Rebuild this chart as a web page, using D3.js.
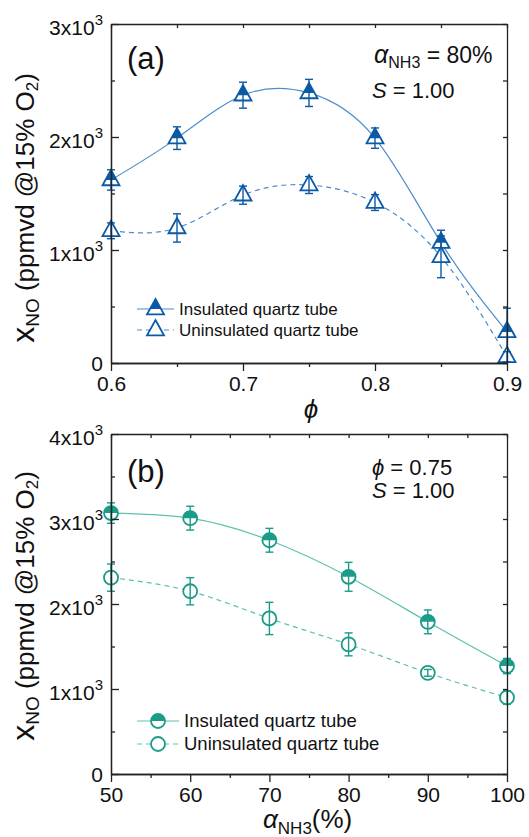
<!DOCTYPE html>
<html>
<head>
<meta charset="utf-8">
<script src="https://cdn.jsdelivr.net/npm/d3@7"></script>
<style>
  body { margin: 0; background: #fff; }
  text { font-family: "Liberation Sans", Arial, "DejaVu Sans", sans-serif; fill: #111; }
</style>
</head>
<body>
<div id="chart"></div>
<script>
// panel (a): NO vs equivalence ratio
var phiValues = [0.6, 0.65, 0.7, 0.75, 0.8, 0.85, 0.9];
var noInsulatedA = [1620, 1990, 2370, 2390, 1990, 1065, 275];
var errInsulatedA = [90, 100, 115, 120, 90, 110, 210];
var noUninsulatedA = [1170, 1195, 1485, 1575, 1420, 940, 55];
var errUninsulatedA = [70, 125, 80, 75, 70, 185, 45];
var phiTicks = [0.6, 0.7, 0.8, 0.9];
var phiMinorTicks = [0.65, 0.75, 0.85];
var yTicksA = [0, 1000, 2000, 3000];
var yMinorTicksA = [500, 1500, 2500];

// panel (b): NO vs NH3 fraction
var nh3Values = [50, 60, 70, 80, 90, 100];
var noInsulatedB = [3070, 3010, 2750, 2320, 1790, 1270];
var errInsulatedB = [120, 140, 140, 170, 140, 90];
var noUninsulatedB = [2310, 2150, 1830, 1525, 1190, 900];
var errUninsulatedB = [160, 160, 190, 135, 40, 80];
var nh3Ticks = [50, 60, 70, 80, 90, 100];
var nh3MinorTicks = [55, 65, 75, 85, 95];
var yTicksB = [0, 1000, 2000, 3000, 4000];
var yMinorTicksB = [500, 1500, 2500, 3500];

var legendNames = ['Insulated quartz tube', 'Uninsulated quartz tube'];

var W = 529, H = 837;
var svg = d3.select('#chart').append('svg')
  .attr('width', W).attr('height', H);

function triangle(g, half, color) {
  g.append('path')
    .attr('d', 'M0,-10 L8.5,5.3 L-8.5,5.3 Z')
    .attr('fill', '#fff').attr('stroke', color).attr('stroke-width', 1.8)
    .attr('stroke-linejoin', 'miter');
  if (half) {
    g.append('path').attr('d', 'M0,-10 L5.6,0 L-5.6,0 Z').attr('fill', color);
  }
}

function circle(g, half, color) {
  g.append('circle').attr('r', 7)
    .attr('fill', '#fff').attr('stroke', color).attr('stroke-width', 1.8);
  if (half) {
    g.append('path').attr('d', 'M-7,0 A7,7 0 0 1 7,0 Z').attr('fill', color);
  }
}

function drawPanel(p) {
  var x = d3.scaleLinear().domain(p.xDomain).range([p.x0, p.x1]);
  var y = d3.scaleLinear().domain(p.yDomain).range([p.y1, p.y0]);
  var g = svg.append('g');

  // curves
  p.series.forEach(function(s) {
    var line = d3.line()
      .x(function(d, i) { return x(p.xValues[i]); })
      .y(function(d) { return y(d); })
      .curve(d3.curveNatural);
    g.append('path')
      .attr('d', line(s.values))
      .attr('fill', 'none')
      .attr('stroke', p.lineColor)
      .attr('stroke-width', 1.2)
      .attr('stroke-dasharray', s.dashed ? '5,4' : null);
  });

  // markers + error bars
  p.series.forEach(function(s) {
    s.values.forEach(function(v, i) {
      var cx = x(p.xValues[i]), cy = y(v);
      var m = g.append('g').attr('transform', 'translate(' + cx + ',' + cy + ')');
      p.marker(m, s.half, p.color);
      var top = y(v + s.errors[i]) - cy, bot = y(v - s.errors[i]) - cy;
      var eb = m.append('g').attr('stroke', p.color).attr('stroke-width', 1.4);
      eb.append('line').attr('x1', 0).attr('x2', 0).attr('y1', top).attr('y2', bot);
      eb.append('line').attr('x1', -4).attr('x2', 4).attr('y1', top).attr('y2', top);
      eb.append('line').attr('x1', -4).attr('x2', 4).attr('y1', bot).attr('y2', bot);
    });
  });

  // axes
  function styleAxis(a) {
    a.selectAll('.domain').attr('stroke', '#222').attr('stroke-width', 1.3);
    a.selectAll('.tick line').attr('stroke', '#222').attr('stroke-width', 1.3);
    a.selectAll('.tick text').attr('font-size', 21).attr('fill', '#111')
      .attr('font-family', '"Liberation Sans", Arial, sans-serif');
  }
  styleAxis(g.append('g').attr('transform', 'translate(0,' + p.y1 + ')')
    .call(d3.axisBottom(x).tickValues(p.xTicks).tickSize(8).tickSizeOuter(0)
      .tickPadding(5).tickFormat(p.xFormat)));
  styleAxis(g.append('g').attr('transform', 'translate(0,' + p.y1 + ')')
    .call(d3.axisBottom(x).tickValues(p.xMinor).tickSize(4).tickSizeOuter(0).tickFormat('')));
  styleAxis(g.append('g').attr('transform', 'translate(0,' + p.y0 + ')')
    .call(d3.axisTop(x).tickValues(p.xTicks.concat(p.xMinor)).tickSize(-4).tickSizeOuter(0).tickFormat('')));
  styleAxis(g.append('g').attr('transform', 'translate(' + p.x0 + ',0)')
    .call(d3.axisLeft(y).tickValues(p.yTicks).tickSize(-8).tickSizeOuter(0).tickFormat('')));
  styleAxis(g.append('g').attr('transform', 'translate(' + p.x0 + ',0)')
    .call(d3.axisLeft(y).tickValues(p.yMinor).tickSize(-4).tickSizeOuter(0).tickFormat('')));
  styleAxis(g.append('g').attr('transform', 'translate(' + p.x1 + ',0)')
    .call(d3.axisRight(y).tickValues(p.yTicks.concat(p.yMinor)).tickSize(-4).tickSizeOuter(0).tickFormat('')));

  // y tick labels like 2x10^3
  p.yTicks.forEach(function(v) {
    var t = g.append('text')
      .attr('x', p.x0 - 8)
      .attr('y', y(v) + (v === 0 ? 8 : 11))
      .attr('text-anchor', 'end')
      .attr('font-size', 21);
    if (v === 0) {
      t.text('0');
    } else {
      t.append('tspan').text((v / 1000) + 'x10');
      t.append('tspan').attr('dy', -10).attr('font-size', 15).text('3');
    }
  });

  // y axis title
  var yt = g.append('text')
    .attr('transform', 'translate(34,' + p.yTitleY + ') rotate(-90)')
    .attr('text-anchor', 'middle')
    .attr('font-size', 26);
  yt.append('tspan').attr('font-size', 32).text('x');
  yt.append('tspan').attr('font-size', 19).attr('dy', 5).text('NO');
  yt.append('tspan').attr('dy', -5).text(' (ppmvd @15% O');
  yt.append('tspan').attr('font-size', 17).attr('dy', 4).text('2');
  yt.append('tspan').attr('dy', -4).text(')');

  // panel label
  g.append('text').attr('x', p.x0 + 16).attr('y', p.labelY)
    .attr('font-size', 31).text(p.label);

  // legend
  p.series.forEach(function(s, i) {
    var ly = p.legendY + i * p.legendGap;
    g.append('line')
      .attr('x1', 137).attr('x2', p.legendX - 5).attr('y1', ly).attr('y2', ly)
      .attr('stroke', p.lineColor).attr('stroke-width', 1.2)
      .attr('stroke-dasharray', s.dashed ? '5,4' : null);
    var m = g.append('g').attr('transform', 'translate(' + ((137 + p.legendX - 5) / 2) + ',' + ly + ')');
    p.marker(m, s.half, p.color);
    g.append('text').attr('x', p.legendX).attr('y', ly + 6)
      .attr('font-size', p.legendSize).text(legendNames[i]);
  });

  return g;
}

var ga = drawPanel({
  x0: 111, x1: 507, y0: 24, y1: 363,
  xDomain: [0.6, 0.9], yDomain: [0, 3000],
  xValues: phiValues,
  xTicks: phiTicks, xMinor: phiMinorTicks, xFormat: d3.format('.1f'),
  yTicks: yTicksA, yMinor: yMinorTicksA,
  color: '#0c5aa6', lineColor: '#4a8ccc',
  marker: triangle,
  series: [
    { values: noInsulatedA, errors: errInsulatedA, half: true, dashed: false },
    { values: noUninsulatedA, errors: errUninsulatedA, half: false, dashed: true }
  ],
  yTitleY: 208, label: '(a)', labelY: 69,
  legendY: 309, legendGap: 21, legendX: 179, legendSize: 17
});

var gb = drawPanel({
  x0: 111, x1: 507, y0: 434, y1: 774,
  xDomain: [50, 100], yDomain: [0, 4000],
  xValues: nh3Values,
  xTicks: nh3Ticks, xMinor: nh3MinorTicks, xFormat: d3.format('d'),
  yTicks: yTicksB, yMinor: yMinorTicksB,
  color: '#1a9c88', lineColor: '#5cc1ae',
  marker: circle,
  series: [
    { values: noInsulatedB, errors: errInsulatedB, half: true, dashed: false },
    { values: noUninsulatedB, errors: errUninsulatedB, half: false, dashed: true }
  ],
  yTitleY: 606, label: '(b)', labelY: 482,
  legendY: 721, legendGap: 23, legendX: 184, legendSize: 18.5
});

// x axis titles
ga.append('text').attr('x', 311).attr('y', 418).attr('text-anchor', 'middle')
  .attr('font-size', 26).attr('font-style', 'italic').text('\u03d5');
var xb = gb.append('text').attr('x', 263).attr('y', 828).attr('font-size', 26);
xb.append('tspan').attr('font-style', 'italic').text('\u03b1');
xb.append('tspan').attr('font-size', 17).attr('dy', 6).text('NH3');
xb.append('tspan').attr('dy', -6).text('(%)');

// condition annotations
var a1 = ga.append('text').attr('x', 374).attr('y', 63).attr('font-size', 23);
a1.append('tspan').attr('font-style', 'italic').attr('font-size', 25).text('\u03b1');
a1.append('tspan').attr('font-size', 16).attr('dy', 5).text('NH3');
a1.append('tspan').attr('dy', -5).text(' = 80%');
var a2 = ga.append('text').attr('x', 372).attr('y', 98).attr('font-size', 22);
a2.append('tspan').attr('font-style', 'italic').text('S');
a2.append('tspan').text(' = 1.00');

var b1 = gb.append('text').attr('x', 372).attr('y', 475).attr('font-size', 22);
b1.append('tspan').attr('font-style', 'italic').text('\u03d5');
b1.append('tspan').text(' = 0.75');
var b2 = gb.append('text').attr('x', 372).attr('y', 498).attr('font-size', 22);
b2.append('tspan').attr('font-style', 'italic').text('S');
b2.append('tspan').text(' = 1.00');
</script>
</body>
</html>
